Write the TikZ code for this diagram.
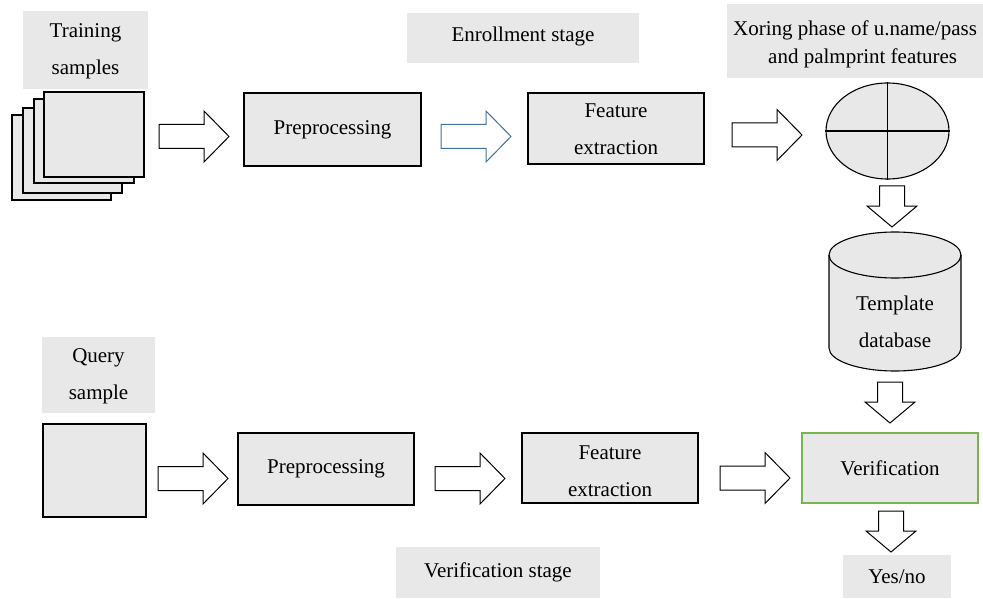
\documentclass[tikz,border=0pt]{standalone}
\usepackage{fontspec}
\setmainfont{Liberation Serif}
\usetikzlibrary{shapes.geometric}
\definecolor{boxgray}{RGB}{232,232,232}
\definecolor{arrowblue}{RGB}{65,113,156}
\definecolor{okgreen}{RGB}{120,180,80}
\tikzset{
  txt/.style={font=\fontsize{21}{37}\selectfont, align=center, inner sep=0pt},
  stepbox/.style={draw=black, line width=1.3pt, fill=boxgray, inner sep=0pt},
  tagbox/.style={fill=boxgray, inner sep=0pt},
  arrowline/.style={draw=black, line width=1pt, fill=white, line join=miter},
  pics/rarrow/.style={code={
    \draw[arrowline,#1] (0,-12)--(45,-12)--(45,-25.5)--(70,0)--(45,25.5)--(45,12)--(0,12)--cycle;}},
  pics/darrow/.style={code={
    \draw[arrowline] (-12.5,0)--(-12.5,20)--(-25,20)--(0,41)--(25,20)--(12.5,20)--(12.5,0)--cycle;}}
}
\begin{document}
\begin{tikzpicture}[x=1pt, y=-1pt]
\useasboundingbox (0,0) rectangle (983,599);

% ---------------- enrollment row ----------------
\node[tagbox, minimum width=125pt, minimum height=78pt] (trainlbl) at (85.5,50) {};
\node[txt] (traintxt) at (85.5,51) {Training\\samples};

% stacked sample images, back to front
\node[stepbox, minimum width=99pt, minimum height=85pt] (s4) at (61.5,157.5) {};
\node[stepbox, minimum width=99pt, minimum height=85pt] (s3) at (72.5,150.5) {};
\node[stepbox, minimum width=100pt, minimum height=84pt] (s2) at (84,141) {};
\node[stepbox, minimum width=100pt, minimum height=85pt] (s1) at (94,134.5) {};

\pic at (159,136.5) {rarrow};

\node[stepbox, minimum width=177pt, minimum height=73pt] (pre1) at (332.5,129.5) {};
\node[txt] at (pre1.center) {Preprocessing};

\pic at (441,136.5) {rarrow={draw=arrowblue}};

\node[tagbox, minimum width=232pt, minimum height=50pt] (enroll) at (523,38) {};
\node[txt] at (523,36) {Enrollment stage};

\node[stepbox, minimum width=176pt, minimum height=71pt] (feat1) at (616,128.5) {};
\node[txt] at (616,129) {Feature\\extraction};

\pic at (732,135) {rarrow};

\node[tagbox, minimum width=256pt, minimum height=74pt] (xorlbl) at (855,41) {};
\node[txt, anchor=west] (xortxta) at (733,30) {Xoring phase of u.name/pass};
\node[txt, anchor=west] (xortxtb) at (768,58) {and palmprint features};

% xor stage drawn as a quartered ellipse
\node[stepbox, ellipse, line width=1.1pt, minimum width=123pt, minimum height=96pt] (xor) at (887.5,131) {};
\draw[line width=1.1pt] (xor.west) -- (xor.east);
\draw[line width=1.1pt] (xor.north) -- (xor.south);

\pic at (892,186) {darrow};

% template database cylinder
\fill[boxgray] (829,255) -- (829,348) arc[start angle=180, end angle=0, x radius=66, y radius=23]
  -- (961,255) arc[start angle=0, end angle=-180, x radius=66, y radius=23] -- cycle;
\draw[line width=1.1pt] (829,255) -- (829,348) arc[start angle=180, end angle=0, x radius=66, y radius=23] -- (961,255);
\draw[line width=1.1pt] (895,255) ellipse[x radius=66, y radius=23];
\node[txt] (db) at (895,322) {Template\\database};

\pic at (890,382) {darrow};

% ---------------- verification row ----------------
\node[tagbox, minimum width=113pt, minimum height=76pt] (querylbl) at (98.5,375) {};
\node[txt] at (98.5,376) {Query\\sample};

\node[stepbox, minimum width=103pt, minimum height=93pt] (query) at (94.5,470.5) {};

\pic at (158,478.5) {rarrow};

\node[stepbox, minimum width=176pt, minimum height=72pt] (pre2) at (326,469) {};
\node[txt] at (pre2.center) {Preprocessing};

\pic at (435,478.5) {rarrow};

\node[stepbox, minimum width=176pt, minimum height=70pt] (feat2) at (610,468) {};
\node[txt] at (610,471) {Feature\\extraction};

\pic at (720,478) {rarrow};

\node[stepbox, draw=okgreen, line width=1.1pt, minimum width=176pt, minimum height=70pt] (verif) at (890,468) {};
\node[txt] at (verif.center) {Verification};

\pic at (891,511) {darrow};

\node[tagbox, minimum width=108pt, minimum height=43pt] (yesno) at (897,576.5) {};
\node[txt] at (897,577) {Yes/no};

\node[tagbox, minimum width=204pt, minimum height=51pt] (vstage) at (498,572.5) {};
\node[txt] at (498,572) {Verification stage};
\end{tikzpicture}
\end{document}
